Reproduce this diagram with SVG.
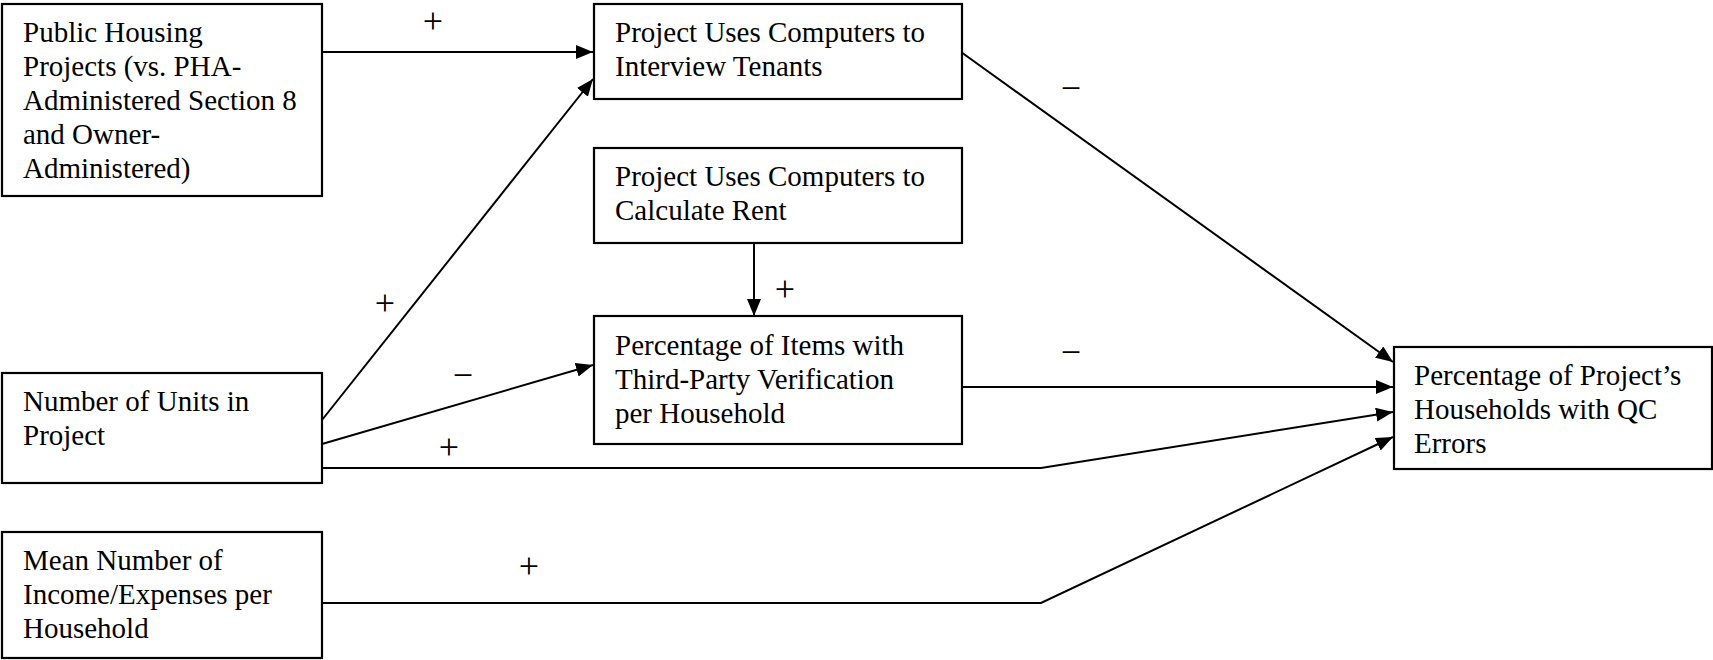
<svg xmlns="http://www.w3.org/2000/svg" width="1713" height="660" viewBox="0 0 1713 660">
<style>
.box{fill:#fff;stroke:#000;stroke-width:2.2}
.t{font-family:"Liberation Serif","Times New Roman",serif;font-size:29px;fill:#000}
.s{font-family:"Liberation Serif","Times New Roman",serif;font-size:36px;fill:#000;text-anchor:middle}
.c{fill:none;stroke:#000;stroke-width:2}
</style>
<defs>
<marker id="ah" markerUnits="userSpaceOnUse" markerWidth="18" markerHeight="14" refX="17" refY="7" orient="auto">
<path d="M0,0 L17,7 L0,14 Z" fill="#000"/>
</marker>
</defs>
<g id="connectors">
<line class="c" x1="322" y1="52" x2="593" y2="52" marker-end="url(#ah)"/>
<line class="c" x1="322" y1="420" x2="593" y2="79" marker-end="url(#ah)"/>
<line class="c" x1="322" y1="444" x2="593" y2="365" marker-end="url(#ah)"/>
<polyline class="c" points="322,468 1041,468 1393,412" marker-end="url(#ah)"/>
<line class="c" x1="961" y1="52" x2="1393" y2="362" marker-end="url(#ah)"/>
<line class="c" x1="961" y1="387" x2="1393" y2="387" marker-end="url(#ah)"/>
<line class="c" x1="754" y1="243" x2="754" y2="316" marker-end="url(#ah)"/>
<polyline class="c" points="322,603 1041,603 1393,437" marker-end="url(#ah)"/>
<text class="s" x="433" y="33">+</text>
<text class="s" x="385" y="315">+</text>
<text class="s" x="463" y="387">−</text>
<text class="s" x="449" y="459">+</text>
<text class="s" x="1071" y="100">−</text>
<text class="s" x="1071" y="364">−</text>
<text class="s" x="785" y="301">+</text>
<text class="s" x="529" y="578">+</text>
</g>
<g id="n1">
<rect class="box" x="2" y="4" width="320" height="192"/>
<text class="t" x="23" y="42">Public Housing</text>
<text class="t" x="23" y="76">Projects (vs. PHA-</text>
<text class="t" x="23" y="110">Administered Section 8</text>
<text class="t" x="23" y="144">and Owner-</text>
<text class="t" x="23" y="178">Administered)</text>
</g>
<g id="n2">
<rect class="box" x="594" y="4" width="368" height="95"/>
<text class="t" x="615" y="42">Project Uses Computers to</text>
<text class="t" x="615" y="76">Interview Tenants</text>
</g>
<g id="n3">
<rect class="box" x="594" y="148" width="368" height="95"/>
<text class="t" x="615" y="186">Project Uses Computers to</text>
<text class="t" x="615" y="220">Calculate Rent</text>
</g>
<g id="n4">
<rect class="box" x="594" y="316" width="368" height="128"/>
<text class="t" x="615" y="355">Percentage of Items with</text>
<text class="t" x="615" y="389">Third-Party Verification</text>
<text class="t" x="615" y="423">per Household</text>
</g>
<g id="n5">
<rect class="box" x="2" y="373" width="320" height="110"/>
<text class="t" x="23" y="411">Number of Units in</text>
<text class="t" x="23" y="445">Project</text>
</g>
<g id="n6">
<rect class="box" x="2" y="532" width="320" height="126"/>
<text class="t" x="23" y="570">Mean Number of</text>
<text class="t" x="23" y="604">Income/Expenses per</text>
<text class="t" x="23" y="638">Household</text>
</g>
<g id="n7">
<rect class="box" x="1394" y="347" width="318" height="122"/>
<text class="t" x="1414" y="385">Percentage of Project’s</text>
<text class="t" x="1414" y="419">Households with QC</text>
<text class="t" x="1414" y="453">Errors</text>
</g>
</svg>
